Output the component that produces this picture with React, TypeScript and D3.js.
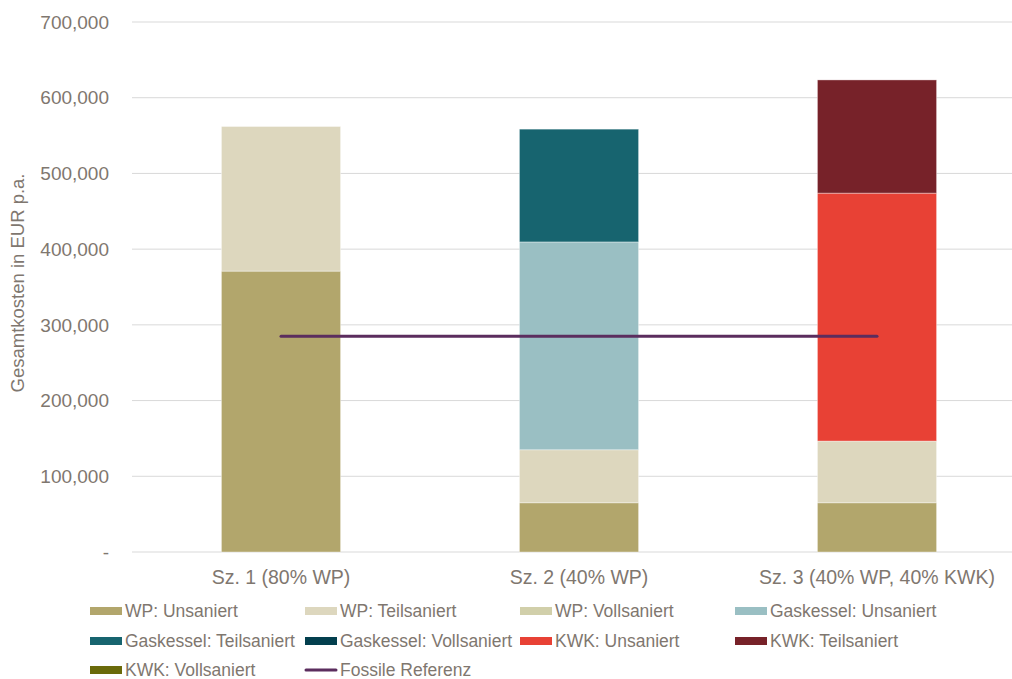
import React from "react";
import * as d3 from "d3";

const categories = ["Sz. 1 (80% WP)", "Sz. 2 (40% WP)", "Sz. 3 (40% WP, 40% KWK)"];

const seriesNames = [
  "WP: Unsaniert",
  "WP: Teilsaniert",
  "WP: Vollsaniert",
  "Gaskessel: Unsaniert",
  "Gaskessel: Teilsaniert",
  "Gaskessel: Vollsaniert",
  "KWK: Unsaniert",
  "KWK: Teilsaniert",
  "KWK: Vollsaniert",
];
const seriesColors = [
  "#B2A66C",
  "#DDD7BE",
  "#D1CFAA",
  "#9ABFC3",
  "#17646F",
  "#033F4E",
  "#E84135",
  "#772229",
  "#6A6A0A",
];

const wpUnsaniert = [371000, 65000, 65000];
const wpTeilsaniert = [191000, 70000, 81500];
const wpVollsaniert = [0, 0, 0];
const gasUnsaniert = [0, 274500, 0];
const gasTeilsaniert = [0, 149000, 0];
const gasVollsaniert = [0, 0, 0];
const kwkUnsaniert = [0, 0, 327500];
const kwkTeilsaniert = [0, 0, 149500];
const kwkVollsaniert = [0, 0, 0];

const fossileReferenz = [285000, 285000, 285000];
const lineName = "Fossile Referenz";
const lineColor = "#5B2D5E";

const yTicks = [0, 100000, 200000, 300000, 400000, 500000, 600000, 700000];
const yTitle = "Gesamtkosten in EUR p.a.";

const seriesValues = [
  wpUnsaniert,
  wpTeilsaniert,
  wpVollsaniert,
  gasUnsaniert,
  gasTeilsaniert,
  gasVollsaniert,
  kwkUnsaniert,
  kwkTeilsaniert,
  kwkVollsaniert,
];

const W = 1012;
const H = 679;
const textColor = "#7F776F";
const font = "'Liberation Sans', Arial, sans-serif";

export default function App() {
  const rows = categories.map((c, i) => {
    const r: any = { cat: c };
    seriesNames.forEach((s, j) => (r[s] = seriesValues[j][i]));
    return r;
  });
  const stacked = d3.stack<any>().keys(seriesNames)(rows);

  const x = d3.scaleBand<string>().domain(categories).range([132, 1026]).paddingInner(0.6).paddingOuter(0.3);
  const y = d3.scaleLinear().domain([0, 700000]).range([552, 22]);
  const fmt = d3.format(",");

  const line = d3
    .line<number>()
    .x((_, i) => (x(categories[i]) as number) + x.bandwidth() / 2)
    .y((d) => y(d));

  const legendItems = [...seriesNames.map((n, i) => ({ name: n, color: seriesColors[i], isLine: false })), { name: lineName, color: lineColor, isLine: true }];
  const colX = [90, 305, 520, 735];
  const rowY = [611, 641, 670];

  return (
    <svg width={W} height={H} style={{ position: "absolute", left: 0, top: 0, background: "#fff" }} fontFamily={font}>
      {yTicks.map((t) => (
        <g key={t}>
          <line x1={132} x2={W} y1={y(t)} y2={y(t)} stroke="#D9D9D9" strokeWidth={1} />
          <text x={109} y={y(t)} dy="0.35em" textAnchor="end" fontSize={19} fill={textColor}>
            {t === 0 ? "-" : fmt(t)}
          </text>
        </g>
      ))}
      <text transform={`translate(24,283) rotate(-90)`} textAnchor="middle" fontSize={18.5} fill={textColor}>
        {yTitle}
      </text>
      {stacked.map((s, j) => (
        <g key={s.key} fill={seriesColors[j]}>
          {s.map((d, i) =>
            d[1] - d[0] > 0 ? (
              <rect
                key={i}
                x={x(categories[i])}
                width={x.bandwidth()}
                y={y(d[1])}
                height={y(d[0]) - y(d[1])}
                stroke="#ffffff"
                strokeOpacity={0.5}
                strokeWidth={0.75}
              />
            ) : null
          )}
        </g>
      ))}
      <path d={line(fossileReferenz) || ""} fill="none" stroke={lineColor} strokeWidth={3} strokeLinecap="round" />
      {categories.map((c) => (
        <text key={c} x={(x(c) as number) + x.bandwidth() / 2} y={577} dy="0.35em" textAnchor="middle" fontSize={19.5} fill={textColor}>
          {c}
        </text>
      ))}
      {legendItems.map((it, k) => {
        const cx = colX[k % 4];
        const cy = rowY[Math.floor(k / 4)];
        return (
          <g key={it.name}>
            {it.isLine ? (
              <line x1={cx + 1} x2={cx + 31} y1={cy} y2={cy} stroke={it.color} strokeWidth={3} strokeLinecap="round" />
            ) : (
              <rect x={cx} y={cy - 4} width={32} height={8} fill={it.color} />
            )}
            <text x={cx + 35} y={cy} dy="0.35em" fontSize={17.5} fill={textColor}>
              {it.name}
            </text>
          </g>
        );
      })}
    </svg>
  );
}
